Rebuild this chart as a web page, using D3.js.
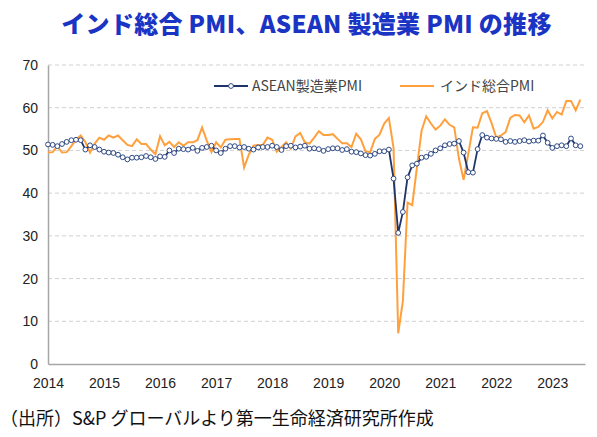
<!DOCTYPE html>
<html><head><meta charset="utf-8">
<script src="https://cdn.jsdelivr.net/npm/d3@7"></script>
<style>
body{margin:0;background:#fff;font-family:"Noto Sans CJK JP","Noto Sans",sans-serif;}
</style></head><body><div id="chart"></div>
<script>
var yearTicks = [2014, 2015, 2016, 2017, 2018, 2019, 2020, 2021, 2022, 2023];
var yTicks = [0, 10, 20, 30, 40, 50, 60, 70];
var aseanPmi = [
  51.4,51.3,51.0,51.5,52.0,52.4,52.5,52.4,50.2,51.2,50.8,50.2,
  49.7,49.5,49.4,49.0,48.4,47.9,48.3,48.3,48.4,48.7,48.4,48.0,
  48.6,48.5,50.0,49.4,50.4,50.3,50.2,50.6,49.9,50.6,50.8,51.1,
  50.0,49.4,50.4,51.0,51.0,50.7,50.8,50.4,50.2,50.7,50.8,50.8,
  51.1,50.8,50.1,51.0,51.1,50.7,50.9,51.1,50.4,50.5,50.3,49.9,
  50.3,50.5,50.5,50.1,50.3,49.7,49.6,49.3,48.9,48.8,49.2,49.8,
  49.8,50.2,43.4,30.7,35.6,43.7,46.5,46.9,48.3,48.5,49.2,50.0,
  50.5,51.2,51.5,51.6,52.2,49.5,44.9,44.8,50.3,53.6,53.0,52.8,
  52.7,52.6,52.0,52.2,52.0,52.2,52.4,52.1,52.3,52.3,53.5,51.8,
  50.6,51.0,51.2,51.0,52.8,51.2,51.0
];
var indiaPmi = [
  49.5,49.6,51.0,49.5,49.6,51.0,52.5,53.5,52.0,49.5,51.6,53.0,
  52.5,53.5,53.0,53.5,52.4,51.3,51.0,52.6,51.5,51.5,50.2,49.1,
  53.3,51.2,52.0,50.8,51.9,51.1,51.9,51.9,52.4,55.4,52.3,49.6,
  51.9,50.7,52.5,52.6,52.7,52.7,46.0,49.0,51.1,51.3,51.3,53.0,
  52.5,49.7,50.8,51.9,50.4,53.3,54.1,51.9,51.6,53.0,54.5,53.6,
  53.6,53.8,52.7,51.7,51.7,50.8,53.9,52.6,49.8,49.6,52.7,53.7,
  56.3,57.6,50.6,7.2,14.8,37.8,37.2,46.0,54.6,58.0,56.3,54.9,
  55.8,57.3,56.0,55.4,48.1,43.1,49.2,55.4,55.3,58.7,59.2,56.4,
  53.0,53.5,54.3,57.6,58.3,58.2,56.6,58.2,55.1,55.5,56.7,59.4,
  57.5,59.0,58.4,61.6,61.6,59.4,61.9
];

var W = 597, H = 437;
var margin = {top: 65, right: 12, bottom: 73, left: 48};
var svg = d3.select("#chart").append("svg").attr("width", W).attr("height", H);

svg.append("text").attr("x", W / 2 + 8).attr("y", 33).attr("text-anchor", "middle")
  .style("font-size", "24px").style("font-weight", "900").style("fill", "#1a34c4")
  .style("letter-spacing", "0.3px")
  .text("インド総合 PMI、ASEAN 製造業 PMI の推移");

var x = d3.scaleLinear().domain([2014, 2014 + 115 / 12]).range([margin.left, W - margin.right]);
var y = d3.scaleLinear().domain([0, 70]).range([H - margin.bottom, margin.top]);
var t = function(i) { return 2014 + i / 12; };

var g = svg.append("g");
g.selectAll("line.grid").data(yTicks.slice(1)).enter().append("line")
  .attr("x1", margin.left).attr("x2", W - margin.right)
  .attr("y1", y).attr("y2", y)
  .attr("stroke", "#d0d0d0").attr("stroke-dasharray", "4,3");

var yAxis = g.append("g").attr("transform", "translate(" + margin.left + ",0)")
  .call(d3.axisLeft(y).tickValues(yTicks).tickSize(0).tickPadding(10));
var xAxis = g.append("g").attr("transform", "translate(0," + y(0) + ")")
  .call(d3.axisBottom(x).tickValues(yearTicks).tickFormat(d3.format("d")).tickSize(0).tickPadding(14));
[yAxis, xAxis].forEach(function(a) {
  a.select(".domain").attr("stroke", "#a6a6a6").attr("stroke-width", 1.5);
  a.selectAll("text").style("font-size", "14px").style("fill", "#222").style("font-family", "'Liberation Sans', Arial, sans-serif");
});

var line = d3.line().x(function(d, i) { return x(t(i)); }).y(function(d) { return y(d); });

g.append("path").datum(indiaPmi).attr("d", line)
  .attr("fill", "none").attr("stroke", "#ffa03c").attr("stroke-width", 2);
g.append("path").datum(aseanPmi).attr("d", line)
  .attr("fill", "none").attr("stroke", "#1f3468").attr("stroke-width", 1.8);
g.selectAll("circle.pt").data(aseanPmi).enter().append("circle")
  .attr("cx", function(d, i) { return x(t(i)); }).attr("cy", y).attr("r", 2.4)
  .attr("fill", "#fff").attr("stroke", "#2f4a85").attr("stroke-width", 1);

// legend
var lg = svg.append("g").attr("transform", "translate(214,86)");
lg.append("line").attr("x1", 0).attr("x2", 34).attr("stroke", "#1f3468").attr("stroke-width", 1.8);
lg.append("circle").attr("cx", 17).attr("r", 2.4).attr("fill", "#fff").attr("stroke", "#2f4a85");
lg.append("text").attr("x", 38).attr("dy", "0.35em").style("font-size", "14px").style("fill", "#444").text("ASEAN製造業PMI");
lg.append("line").attr("x1", 186).attr("x2", 220).attr("stroke", "#ffa03c").attr("stroke-width", 2);
lg.append("text").attr("x", 226).attr("dy", "0.35em").style("font-size", "14px").style("fill", "#444").text("インド総合PMI");

svg.append("text").attr("x", 0).attr("y", 425).style("font-size", "18px").style("fill", "#111")
  .text("（出所）S&P グローバルより第一生命経済研究所作成");
</script></body></html>
